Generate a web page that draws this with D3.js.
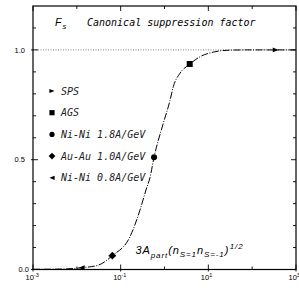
<!DOCTYPE html>
<html><head><meta charset="utf-8">
<script src="https://cdn.jsdelivr.net/npm/d3@7"></script>
<style>
body{margin:0;background:#fff;}
svg{display:block;}
.mono{font-family:"DejaVu Sans Mono",monospace;font-style:oblique;}
.sans{font-family:"Liberation Sans",Arial,sans-serif;}
</style></head>
<body>
<svg id="c" width="299" height="291"></svg>
<script>
// ---- data ----
const curveX = [0.001,0.00413,0.0129,0.031,0.0646,0.163,0.276,0.378,0.468,0.577,0.94,1.336,1.59,2.26,3.82,6.46,13.0,31.3,75.2,1000];
const curveF = [0.001,0.002,0.008,0.02,0.063,0.149,0.271,0.362,0.42,0.511,0.666,0.77,0.833,0.894,0.936,0.969,0.99,0.999,1.0,1.0];
const seriesNames = ["SPS","AGS","Ni-Ni 1.8A/GeV","Au-Au 1.0A/GeV","Ni-Ni 0.8A/GeV"];
const seriesSymbols = ["triRight","square","circle","diamond","triLeft"];
const seriesX = [345, 3.76, 0.577, 0.0646, 0.0129];
const seriesF = [1.0, 0.936, 0.511, 0.063, 0.008];
const xMajorTicks = [1e-3,1e-1,1e1,1e3];
const xMinorTicks = [1e-2,1e0,1e2];
const xTickExp = ["-3","-1","1","3"];
const yMajorTicks = [0,0.5,1.0];
const yTickLabels = ["0.0","0.5","1.0"];
const yMinorTicks = [0.1,0.2,0.3,0.4,0.6,0.7,0.8,0.9,1.1];

const svg = d3.select("#c");
const L=33, R=296, T=6, B=269.5;
const x = d3.scaleLog().domain([1e-3,1e3]).range([L,R]);
const y = d3.scaleLinear().domain([0,1.2]).range([B,T]);

// reference line at 1.0
svg.append("line").attr("x1",L).attr("x2",R).attr("y1",y(1)).attr("y2",y(1))
  .attr("stroke","#666").attr("stroke-width",0.8).attr("stroke-dasharray","1,1.5");

// frame
svg.append("rect").attr("x",L).attr("y",T).attr("width",R-L).attr("height",B-T)
  .attr("fill","none").attr("stroke","#000").attr("stroke-width",1.2);

// ticks
const tk = svg.append("g").attr("stroke","#000").attr("stroke-width",0.9);
xMajorTicks.forEach(v=>{
  tk.append("line").attr("x1",x(v)).attr("x2",x(v)).attr("y1",B+2).attr("y2",B-5);
  tk.append("line").attr("x1",x(v)).attr("x2",x(v)).attr("y1",T).attr("y2",T+5);
});
xMinorTicks.forEach(v=>{
  tk.append("line").attr("x1",x(v)).attr("x2",x(v)).attr("y1",B).attr("y2",B-3);
  tk.append("line").attr("x1",x(v)).attr("x2",x(v)).attr("y1",T).attr("y2",T+3);
});
yMajorTicks.forEach(v=>{
  tk.append("line").attr("x1",L-2).attr("x2",L+5).attr("y1",y(v)).attr("y2",y(v));
  tk.append("line").attr("x1",R).attr("x2",R-5).attr("y1",y(v)).attr("y2",y(v));
});
yMinorTicks.forEach(v=>{
  tk.append("line").attr("x1",L).attr("x2",L+3).attr("y1",y(v)).attr("y2",y(v));
  tk.append("line").attr("x1",R).attr("x2",R-3).attr("y1",y(v)).attr("y2",y(v));
});

// tick labels
yMajorTicks.forEach((v,i)=>{
  svg.append("text").attr("class","sans").attr("x", v===0?29:25).attr("y",y(v)+2.7)
    .attr("text-anchor","end").attr("font-size",7.5).text(yTickLabels[i]);
});
xMajorTicks.forEach((v,i)=>{
  const t = svg.append("text").attr("class","sans").attr("x",x(v)-7.5).attr("y",B+10.5).attr("font-size",7.5);
  t.append("tspan").text("10");
  t.append("tspan").attr("font-size",5.5).attr("dy",-3).text(xTickExp[i]);
});

// curve
const pts = curveX.map((v,i)=>[v,curveF[i]]);
svg.append("path").datum(pts)
  .attr("d", d3.line().x(d=>x(d[0])).y(d=>y(d[1])).curve(d3.curveMonotoneX))
  .attr("fill","none").attr("stroke","#000").attr("stroke-width",1)
  .attr("stroke-dasharray","7,1.5,1,1.5");

// symbols
function sym(g, type, cx, cy, s){
  let p;
  if(type==="triRight") p=`M${cx-s},${cy-s*0.8}L${cx+s},${cy}L${cx-s},${cy+s*0.8}Z`;
  else if(type==="triLeft") p=`M${cx+s},${cy-s*0.8}L${cx-s},${cy}L${cx+s},${cy+s*0.8}Z`;
  else if(type==="square") p=`M${cx-s},${cy-s}h${2*s}v${2*s}h${-2*s}Z`;
  else if(type==="diamond") p=`M${cx},${cy-s*1.3}L${cx+s*1.3},${cy}L${cx},${cy+s*1.3}L${cx-s*1.3},${cy}Z`;
  else { g.append("circle").attr("cx",cx).attr("cy",cy).attr("r",s).attr("fill","#000"); return; }
  g.append("path").attr("d",p).attr("fill","#000");
}
const sg = svg.append("g");
seriesX.forEach((v,i)=> sym(sg, seriesSymbols[i], x(v), y(seriesF[i]), 3));

// legend
const legY0 = 91, legDy = 21.7;
seriesNames.forEach((n,i)=>{
  sym(sg, seriesSymbols[i], 52, legY0+i*legDy, 2.6);
  svg.append("text").attr("class","mono").attr("x",61).attr("y",legY0+i*legDy+3.5)
    .attr("font-size",10).attr("fill","#222").text(n);
});

// title
const ft = svg.append("text").attr("class","sans").attr("font-style","italic").attr("x",55).attr("y",26).attr("font-size",10.5);
ft.append("tspan").text("F");
ft.append("tspan").attr("font-size",7.5).attr("dy",3).attr("dx",1).text("s");
svg.append("text").attr("class","mono").attr("x",87).attr("y",26).attr("font-size",10).text("Canonical suppression factor");

// x-axis label
const xl = svg.append("text").attr("class","sans").attr("font-style","italic").attr("x",135.5).attr("y",254).attr("font-size",11).attr("letter-spacing",0.9);
xl.append("tspan").text("3A");
xl.append("tspan").attr("font-size",8).attr("dy",3.5).text("part");
xl.append("tspan").attr("dy",-3.5).text("(n");
xl.append("tspan").attr("font-size",8).attr("dy",3).text("S=1");
xl.append("tspan").attr("dy",-3).text("n");
xl.append("tspan").attr("font-size",8).attr("dy",3).text("S=-1");
xl.append("tspan").attr("dy",-3).text(")");
xl.append("tspan").attr("font-size",8).attr("dy",-5).attr("dx",0.5).text("1/2");
</script>
</body></html>
